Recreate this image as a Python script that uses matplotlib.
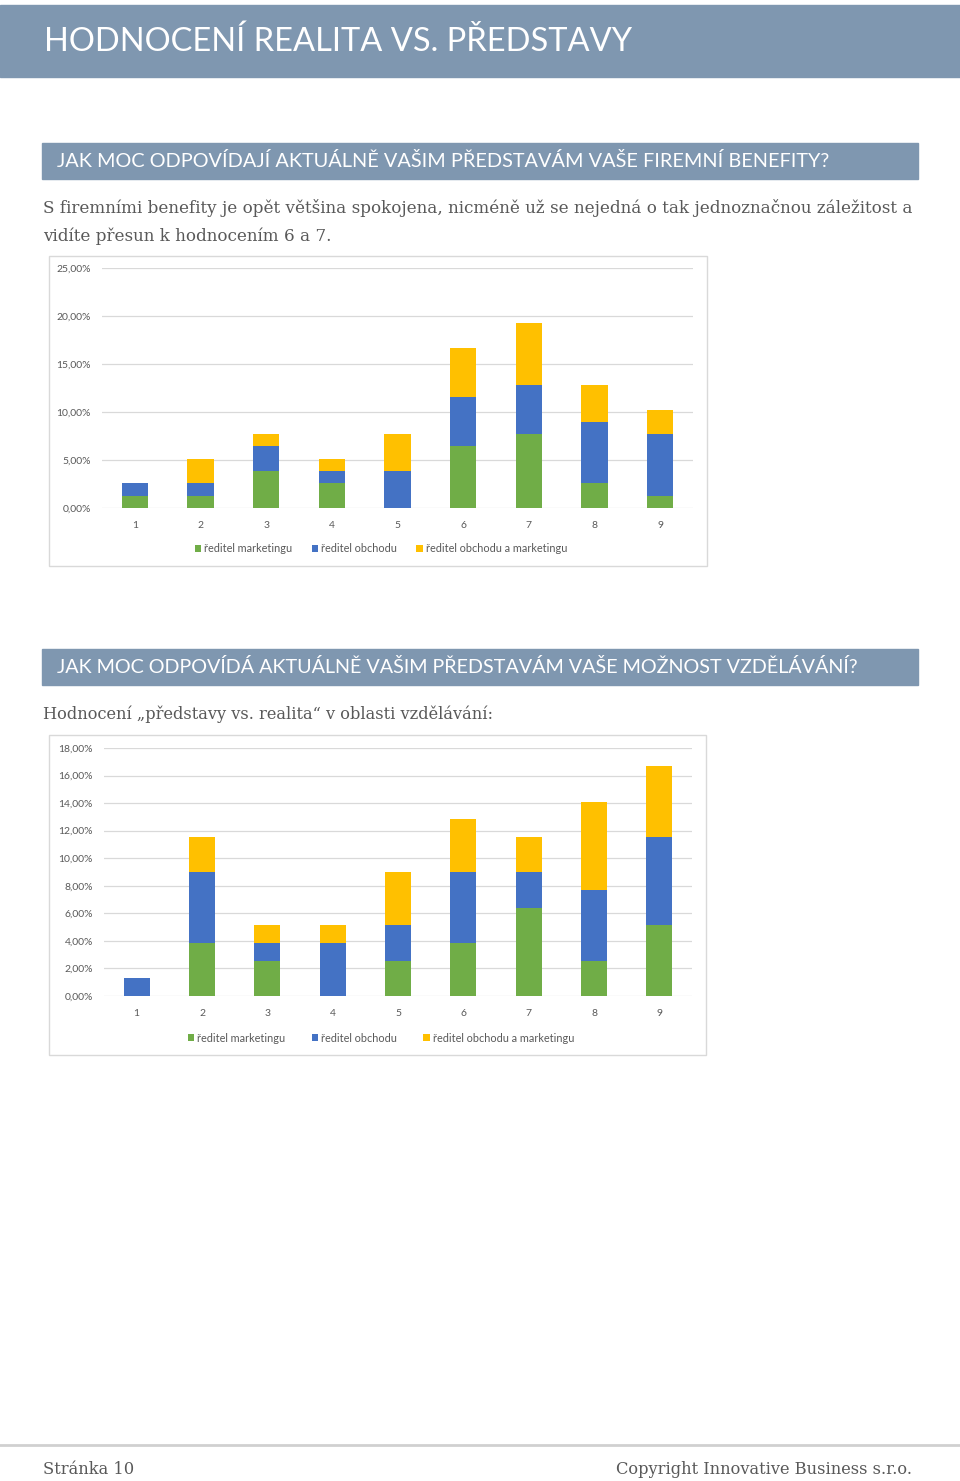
import matplotlib
matplotlib.use("Agg")
import matplotlib.pyplot as plt
from matplotlib.patches import Rectangle
from matplotlib.ticker import FuncFormatter

# data (percent of respondents)
ratings = ["1", "2", "3", "4", "5", "6", "7", "8", "9"]
series_names = ["ředitel marketingu", "ředitel obchodu", "ředitel obchodu a marketingu"]

benefity_marketing = [1.28, 1.28, 3.85, 2.56, 0.00, 6.41, 7.69, 2.56, 1.28]
benefity_obchod = [1.28, 1.28, 2.56, 1.28, 3.85, 5.13, 5.13, 6.41, 6.41]
benefity_oba = [0.00, 2.56, 1.28, 1.28, 3.85, 5.13, 6.41, 3.85, 2.56]

vzdelavani_marketing = [0.00, 3.85, 2.56, 0.00, 2.56, 3.85, 6.41, 2.56, 5.13]
vzdelavani_obchod = [1.28, 5.13, 1.28, 3.85, 2.56, 5.13, 2.56, 5.13, 6.41]
vzdelavani_oba = [0.00, 2.56, 1.28, 1.28, 3.85, 3.85, 2.56, 6.41, 5.13]

colors = ["#70ad47", "#4472c4", "#ffc000"]
bar_blue_gray = "#7f97b0"
W, H = 960, 1481

plt.rcParams["font.family"] = ["Lato", "DejaVu Sans"]

fig = plt.figure(figsize=(W / 100, H / 100), dpi=100)
bg = fig.add_axes([0, 0, 1, 1])
bg.set_xlim(0, W)
bg.set_ylim(H, 0)
bg.axis("off")

sans = ["Lato", "DejaVu Sans"]
serif = ["DejaVu Serif"]
grey_text = "#595959"

# page header
bg.add_patch(Rectangle((0, 5), W, 72, color=bar_blue_gray))
bg.text(44, 42, "HODNOCENÍ REALITA VS. PŘEDSTAVY", color="white",
        fontsize=23.5, family=sans, va="center")

# section 1
bg.add_patch(Rectangle((42, 143), 876, 36, color=bar_blue_gray))
bg.text(57, 161, "JAK MOC ODPOVÍDAJÍ AKTUÁLNĚ VAŠIM PŘEDSTAVÁM VAŠE FIREMNÍ BENEFITY?",
        color="white", fontsize=14.3, family=sans, va="center")
bg.text(43, 208, "S firemními benefity je opět většina spokojena, nicméně už se nejedná o tak "
        "jednoznačnou záležitost a", color=grey_text, fontsize=12.1, family=serif, va="center")
bg.text(43, 236, "vidíte přesun k hodnocením 6 a 7.", color=grey_text,
        fontsize=12.1, family=serif, va="center")
bg.add_patch(Rectangle((49, 256), 658, 310, fill=False, edgecolor="#d9d9d9", lw=1))

# section 2
bg.add_patch(Rectangle((42, 649), 876, 36, color=bar_blue_gray))
bg.text(57, 667, "JAK MOC ODPOVÍDÁ AKTUÁLNĚ VAŠIM PŘEDSTAVÁM VAŠE MOŽNOST VZDĚLÁVÁNÍ?",
        color="white", fontsize=14.2, family=sans, va="center")
bg.text(43, 714, "Hodnocení „představy vs. realita“ v oblasti vzdělávání:", color=grey_text,
        fontsize=11.7, family=serif, va="center")
bg.add_patch(Rectangle((49, 735), 657, 320, fill=False, edgecolor="#d9d9d9", lw=1))

# footer
bg.plot([0, W], [1445, 1445], color="#d0d0d0", lw=2)
bg.text(43, 1469, "Stránka 10", color=grey_text, fontsize=11.7, family=serif, va="center")
bg.text(912, 1469, "Copyright Innovative Business s.r.o.", color=grey_text,
        fontsize=11.7, family=serif, va="center", ha="right")


def stacked_chart(x0, x1, y_top, y_zero, ymax, step, green, blue, yellow, legend_y, legend_x, colsp):
    ax = fig.add_axes([x0 / W, 1 - y_zero / H, (x1 - x0) / W, (y_zero - y_top) / H])
    pos = range(len(ratings))
    ax.bar(pos, green, width=0.4, color=colors[0], label=series_names[0], zorder=3)
    ax.bar(pos, blue, width=0.4, bottom=green, color=colors[1], label=series_names[1], zorder=3)
    base = [g + b for g, b in zip(green, blue)]
    ax.bar(pos, yellow, width=0.4, bottom=base, color=colors[2], label=series_names[2], zorder=3)
    ax.set_xlim(-0.5, len(ratings) - 0.5)
    ax.set_ylim(0, ymax)
    ax.set_yticks([i * step for i in range(int(ymax / step) + 1)])
    ax.yaxis.set_major_formatter(FuncFormatter(lambda v, p: f"{v:.2f}%".replace(".", ",")))
    ax.set_xticks(list(pos))
    ax.set_xticklabels(ratings)
    ax.grid(axis="y", color="#d9d9d9", lw=0.9, zorder=0)
    for s in ax.spines.values():
        s.set_visible(False)
    ax.tick_params(length=0, labelsize=7.5, colors=grey_text)
    ax.tick_params(axis="y", pad=8)
    ax.tick_params(axis="x", pad=9)
    ax.patch.set_alpha(0)
    ax.legend(loc="center", bbox_to_anchor=(legend_x / W, 1 - legend_y / H),
              bbox_transform=fig.transFigure, ncol=3, frameon=False, fontsize=7.8,
              handlelength=0.6, handleheight=0.6, handletextpad=0.3, columnspacing=colsp,
              labelcolor=grey_text)
    return ax


stacked_chart(102, 693, 268, 508, 25, 5,
              benefity_marketing, benefity_obchod, benefity_oba, 549, 381, 1.75)
stacked_chart(104, 692, 748, 996, 18, 2,
              vzdelavani_marketing, vzdelavani_obchod, vzdelavani_oba, 1038, 381, 2.4)

fig.savefig("out.png", dpi=100)
